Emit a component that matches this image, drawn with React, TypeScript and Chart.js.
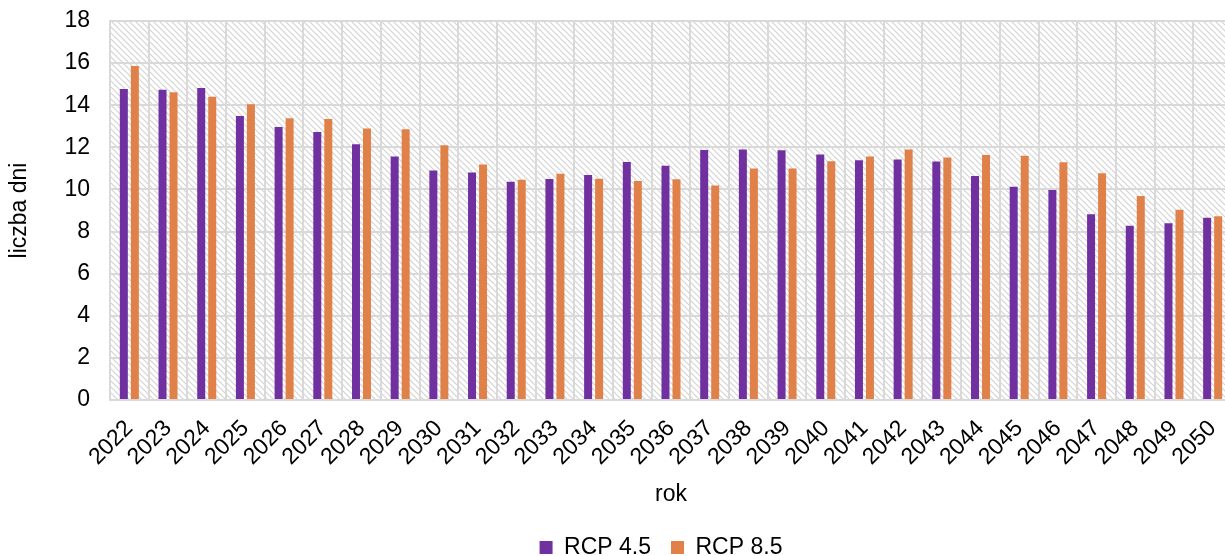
import React, { useEffect, useRef } from "react";
import { Chart, registerables } from "chart.js";

Chart.register(...registerables);

const years = [
  "2022", "2023", "2024", "2025", "2026", "2027", "2028", "2029", "2030", "2031",
  "2032", "2033", "2034", "2035", "2036", "2037", "2038", "2039", "2040", "2041",
  "2042", "2043", "2044", "2045", "2046", "2047", "2048", "2049", "2050",
];

const rcp45 = [
  14.77, 14.74, 14.82, 13.49, 12.96, 12.73, 12.15, 11.56, 10.9, 10.8,
  10.37, 10.5, 10.69, 11.3, 11.12, 11.87, 11.9, 11.86, 11.66, 11.39,
  11.42, 11.33, 10.64, 10.13, 9.97, 8.82, 8.28, 8.39, 8.65,
];

const rcp85 = [
  15.86, 14.62, 14.4, 14.05, 13.38, 13.35, 12.89, 12.86, 12.1, 11.18,
  10.46, 10.74, 10.51, 10.4, 10.48, 10.19, 10.99, 10.99, 11.34, 11.56,
  11.9, 11.52, 11.63, 11.6, 11.29, 10.77, 9.69, 9.04, 8.73,
];

const seriesNames = ["RCP 4.5", "RCP 8.5"];
const yMin = 0;
const yMax = 18;
const yStep = 2;

const FONT = "'Liberation Sans', Arial, sans-serif";
const FS = 23;

const hatchPlugin = {
  id: "hatchBg",
  afterLayout(chart: any) {
    const lg = chart.legend;
    if (lg) {
      lg.left -= 10;
      lg.right -= 10;
    }
  },
  beforeDraw(chart: any) {
    const { ctx, chartArea } = chart;
    if (!chartArea) return;
    const s = 6;
    const tile = document.createElement("canvas");
    tile.width = s;
    tile.height = s;
    const t = tile.getContext("2d")!;
    t.fillStyle = "#ffffff";
    t.fillRect(0, 0, s, s);
    t.strokeStyle = "#d4d4d4";
    t.lineWidth = 1.2;
    t.beginPath();
    t.moveTo(0, 0);
    t.lineTo(s, s);
    t.moveTo(-1, s - 1);
    t.lineTo(1, s + 1);
    t.moveTo(s - 1, -1);
    t.lineTo(s + 1, 1);
    t.stroke();
    const pat = ctx.createPattern(tile, "repeat");
    ctx.save();
    ctx.fillStyle = pat;
    ctx.fillRect(
      chartArea.left,
      chartArea.top,
      chartArea.right - chartArea.left,
      chartArea.bottom - chartArea.top
    );
    ctx.restore();
  },
};

export default function App() {
  const ref = useRef<HTMLCanvasElement | null>(null);

  useEffect(() => {
    document.body.style.margin = "0";
    const canvas = ref.current!;
    const chart = new Chart(canvas, {
      type: "bar",
      data: {
        labels: years,
        datasets: [
          {
            label: seriesNames[0],
            data: rcp45,
            backgroundColor: "#7030A0",
            categoryPercentage: 0.569,
            barPercentage: 0.727,
          },
          {
            label: seriesNames[1],
            data: rcp85,
            backgroundColor: "#E0814A",
            categoryPercentage: 0.569,
            barPercentage: 0.727,
          },
        ],
      },
      options: {
        responsive: false,
        animation: false,
        devicePixelRatio: 1,
        layout: { padding: { top: 21, right: 3, left: 0, bottom: -13 } },
        plugins: {
          tooltip: { enabled: false },
          legend: {
            position: "bottom",
            fullSize: false,
            labels: {
              boxWidth: 13,
              boxHeight: 13,
              padding: 20,
              color: "#000",
              font: { family: FONT, size: FS },
            },
          },
        },
        scales: {
          x: {
            grid: {
              color: "#d9d9d9",
              lineWidth: 2,
              offset: true,
              drawTicks: false,
            },
            border: { color: "#d9d9d9", width: 2 },
            ticks: {
              color: "#000",
              font: { family: FONT, size: FS },
              maxRotation: 45,
              minRotation: 45,
              autoSkip: false,
              padding: 15,
            },
            title: {
              display: true,
              text: "rok",
              color: "#000",
              font: { family: FONT, size: FS },
              padding: { top: 0, bottom: 8 },
            },
            afterFit(scale: any) {
              scale.height = 116;
              scale.paddingLeft = 0;
              scale.paddingRight = 0;
            },
          },
          y: {
            min: yMin,
            max: yMax,
            grid: {
              color: "#d9d9d9",
              lineWidth: 2,
              drawTicks: true,
              tickLength: 18,
              tickColor: "rgba(0,0,0,0)",
            },
            border: { color: "#d9d9d9", width: 2 },
            ticks: {
              stepSize: yStep,
              color: "#000",
              font: { family: FONT, size: FS },
              padding: 2,
            },
            title: {
              display: true,
              text: "liczba dni",
              color: "#000",
              font: { family: FONT, size: FS },
              padding: { top: 6, bottom: 0 },
            },
            afterFit(scale: any) {
              scale.width = 110;
            },
          },
        },
      },
      plugins: [hatchPlugin],
    });
    return () => chart.destroy();
  }, []);

  return (
    <div style={{ width: 1225, height: 556, overflow: "hidden" }}>
      <canvas ref={ref} width={1235} height={556} style={{ display: "block" }} />
    </div>
  );
}
